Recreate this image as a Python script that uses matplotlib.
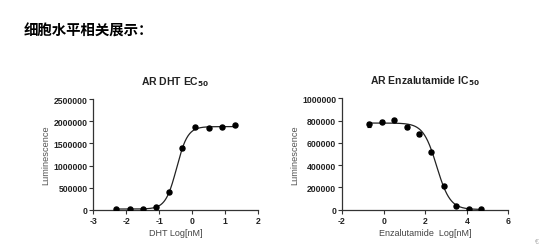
import numpy as np
import matplotlib
matplotlib.use("Agg")
import matplotlib.pyplot as plt

plt.rcParams['font.family'] = ['Liberation Sans', 'DejaVu Sans']

# ---- data ----
header = "细胞水平相关展示："

dht_title = r"AR DHT EC$_{\mathbf{50}}$"
dht_xlabel = "DHT Log[nM]"
dht_x = [-2.3, -1.9, -1.5, -1.1, -0.7, -0.3, 0.1, 0.5, 0.9, 1.3]
dht_y = [10000, 12000, 20000, 60000, 395000, 1385000, 1875000, 1850000, 1870000, 1905000]
dht_err = [8000, 8000, 8000, 15000, 25000, 45000, 20000, 25000, 15000, 15000]
dht_fit = dict(bottom=15000, top=1880000, logc=-0.47, hill=2.6)
dht_xticks = [-3, -2, -1, 0, 1, 2]
dht_yticks = [0, 500000, 1000000, 1500000, 2000000, 2500000]

enz_title = r"AR Enzalutamide IC$_{\mathbf{50}}$"
enz_xlabel = "Enzalutamide  Log[nM]"
enz_x = [-0.7, -0.1, 0.5, 1.1, 1.7, 2.3, 2.9, 3.5, 4.1, 4.7]
enz_y = [765000, 790000, 802000, 740000, 678000, 520000, 212000, 30000, 5000, 4000]
enz_err = [25000, 15000, 8000, 12000, 15000, 10000, 10000, 8000, 5000, 4000]
enz_fit = dict(bottom=2000, top=778000, logc=2.55, hill=-1.35)
enz_xticks = [-2, 0, 2, 4, 6]
enz_yticks = [0, 200000, 400000, 600000, 800000, 1000000]

ylabel = "Luminescence"


def four_pl(x, bottom, top, logc, hill):
    return bottom + (top - bottom) / (1 + 10 ** ((logc - x) * hill))


W, H = 543, 253
fig = plt.figure(figsize=(W / 100, H / 100), dpi=100)
fig.patch.set_facecolor('white')

fig.text(24 / W, 1 - 32 / H, header, fontsize=10.4, fontweight='bold',
         family=['Noto Sans CJK SC', 'DejaVu Sans'], va='center', ha='left')


def panel(rect, xs, ys, errs, fit, xticks, yticks, title, xlabel):
    ax = fig.add_axes(rect)
    xx = np.linspace(min(xs), max(xs), 300)
    ax.plot(xx, four_pl(xx, **fit), color='#222222', lw=0.9, zorder=2)
    ax.errorbar(xs, ys, yerr=errs, fmt='o', color='black', ms=3.6,
                elinewidth=0.8, capsize=1.5, capthick=0.8, zorder=3)
    ax.set_xlim(xticks[0], xticks[-1])
    ax.set_ylim(yticks[0], yticks[-1])
    ax.set_xticks(xticks)
    ax.set_xticklabels([str(t) for t in xticks])
    ax.set_yticks(yticks)
    ax.set_yticklabels([str(t) for t in yticks])
    for s in ['top', 'right']:
        ax.spines[s].set_visible(False)
    for s in ['left', 'bottom']:
        ax.spines[s].set_linewidth(0.9)
        ax.spines[s].set_color('#333333')
    ax.tick_params(direction='out', length=3, width=0.8, color='#333333',
                   labelsize=6.2, pad=1.2)
    for lab in ax.get_xticklabels() + ax.get_yticklabels():
        lab.set_fontweight('bold')
        lab.set_color('#222222')
    ax.set_title(title, fontsize=7.5, fontweight='bold', pad=11, color='#222222')
    ax.set_xlabel(xlabel, fontsize=6.5, color='#444444', labelpad=2.5)
    ax.set_ylabel(ylabel, fontsize=6.7, color='#555555', labelpad=2)
    ax.patch.set_alpha(0)
    return ax


panel([93.3 / W, 1 - 210.7 / H, 164.7 / W, 110.5 / H], dht_x, dht_y, dht_err,
      dht_fit, dht_xticks, dht_yticks, dht_title, dht_xlabel)
panel([342 / W, 1 - 210.7 / H, 166.5 / W, 111.4 / H], enz_x, enz_y, enz_err,
      enz_fit, enz_xticks, enz_yticks, enz_title, enz_xlabel)

fig.text(537 / W, 1 - 243 / H, "€", fontsize=5, color='#aaaaaa', ha='center', va='center')

fig.savefig("out.png", dpi=100)
